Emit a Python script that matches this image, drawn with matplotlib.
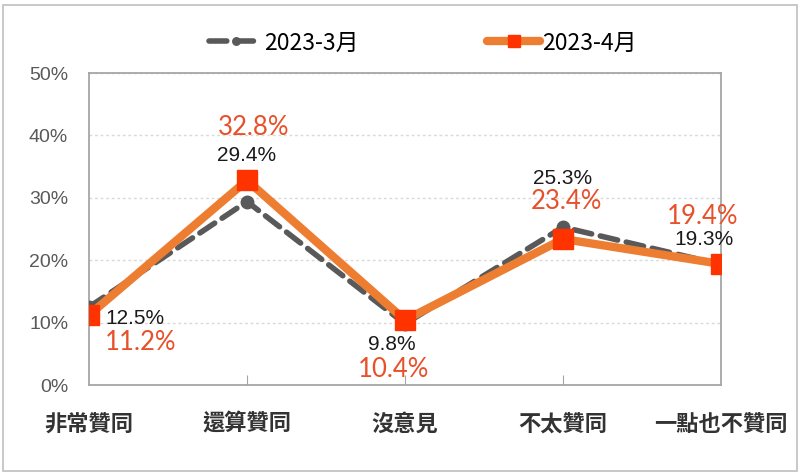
import matplotlib
matplotlib.use('Agg')
import matplotlib.pyplot as plt
from matplotlib.patches import Rectangle

plt.rcParams['font.family'] = ['Noto Sans CJK TC', 'DejaVu Sans']

# data
categories = ['非常贊同', '還算贊同', '沒意見', '不太贊同', '一點也不贊同']
mar_2023 = [12.5, 29.4, 9.8, 25.3, 19.3]
apr_2023 = [11.2, 32.8, 10.4, 23.4, 19.4]
series_names = ['2023-3月', '2023-4月']

# label offsets (pixels) relative to each point
mar_offsets = [(16, -11), (0, 46), (-13, -21), (0, 49), (-17, 25)]
apr_offsets = [(16, -27), (7, 53), (-11, -49), (3, 37), (-18, 47)]

gray = '#595959'
orange = '#ED7D31'
red = '#FF3300'
label_orange = '#E8502A'

fig = plt.figure(figsize=(8, 4.74), dpi=100)
ax = fig.add_axes([89 / 800, 89 / 474, 632 / 800, 312 / 474])

x = list(range(len(categories)))
ax.plot(x, mar_2023, color=gray, lw=4, ls=(0, (3.2, 1.6)), marker='o', ms=9,
        mfc=gray, mec=gray, label=series_names[0], zorder=3,
        dash_capstyle='round')
ax.plot(x, apr_2023, color=orange, lw=6, marker='s', ms=15, mfc=red, mec=red,
        label=series_names[1], zorder=4, solid_joinstyle='miter',
        solid_capstyle='round')

for xi, v, off in zip(x, mar_2023, mar_offsets):
    ha = 'left' if off[0] > 10 else 'center'
    ax.annotate(f'{v}%', (xi, v), xytext=off, textcoords='offset pixels',
                ha=ha, va='center', fontsize=15, color='#1a1a1a',
                family=['Liberation Sans', 'DejaVu Sans'], zorder=5)
for xi, v, off in zip(x, apr_2023, apr_offsets):
    ha = 'left' if off[0] > 10 else 'center'
    ax.annotate(f'{v}%', (xi, v), xytext=off, textcoords='offset pixels',
                ha=ha, va='center', fontsize=18.5, color=label_orange,
                family=['Lato', 'DejaVu Sans'], zorder=5)

ax.set_xlim(0, 4)
ax.set_ylim(0, 50)
ax.set_yticks(range(0, 51, 10))
ax.set_yticklabels([f'{t}%' for t in range(0, 51, 10)], fontsize=14,
                   color=gray, family=['Liberation Sans', 'DejaVu Sans'])
ax.tick_params(axis='y', length=0, pad=15)
ax.set_xticks(x)
ax.set_xticklabels(categories, fontsize=16, color='#333333', fontweight='bold')
ax.tick_params(axis='x', direction='in', length=7, color='#A6A6A6', pad=20)
ax.xaxis.get_major_ticks()[0].tick1line.set_visible(False)
ax.xaxis.get_major_ticks()[-1].tick1line.set_visible(False)

ax.grid(axis='y', color='#D9D9D9', ls=(0, (2, 2)), lw=1)
ax.set_axisbelow(True)
for s in ax.spines.values():
    s.set_color('#A6A6A6')
    s.set_linewidth(1.3)

fig.legend(loc='center', bbox_to_anchor=(423 / 800, 1 - 43 / 474), ncol=2,
           frameon=False, fontsize=16.5, handlelength=2.3, handletextpad=0.1,
           columnspacing=5.6, markerscale=0.6)

fig.patches.append(Rectangle((3 / 800, 3 / 474), 794 / 800, 466 / 474,
                             transform=fig.transFigure, fill=False,
                             edgecolor='#BFBFBF', lw=1.2))

fig.savefig('out.png', dpi=100)
